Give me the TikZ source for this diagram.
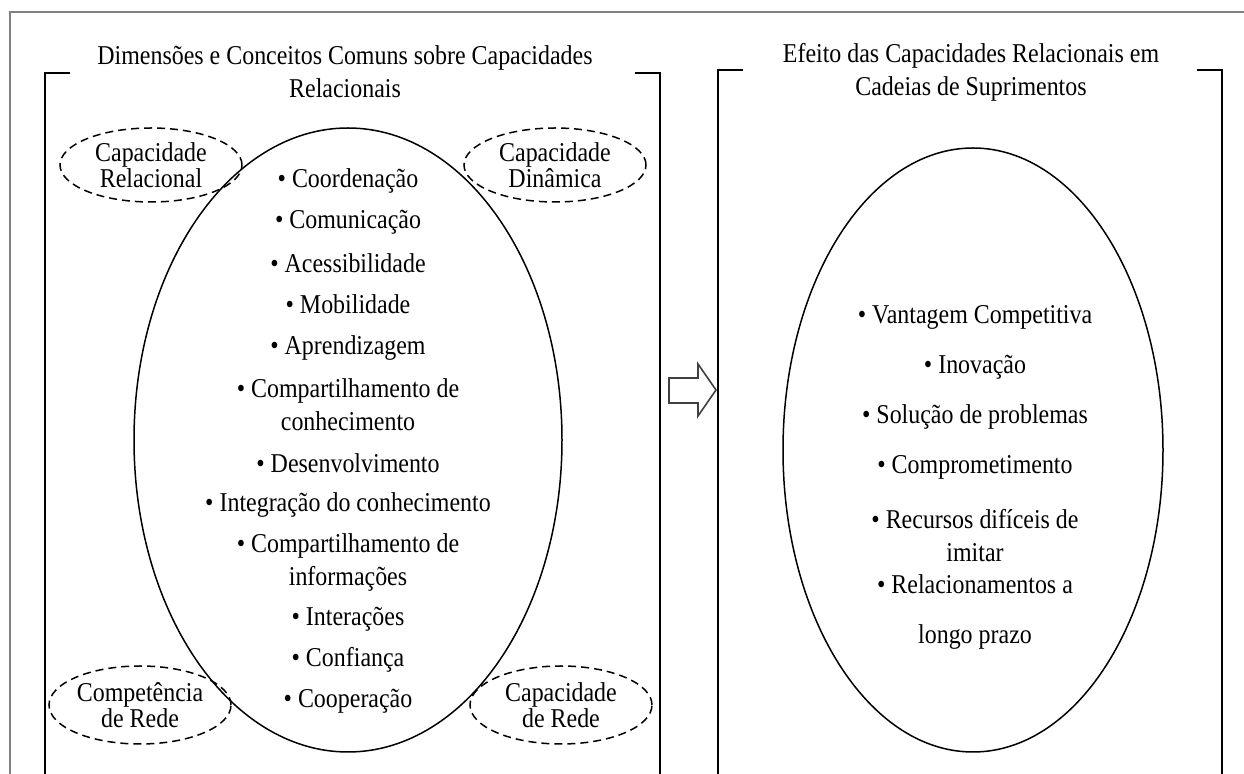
\documentclass[tikz,border=0pt]{standalone}
\usepackage{fontspec}
\setmainfont{Liberation Serif}[FakeStretch=0.88]
\usetikzlibrary{positioning,shapes.geometric}
\newcommand{\bracketbox}[4]{
  % #1 left x, #2 right x, #3 top y, #4 arm length
  \draw[boxline] (#1+#4,#3) -- (#1,#3) -- (#1,774);
  \draw[boxline] (#2-#4,#3) -- (#2,#3) -- (#2,774);
}
\tikzset{
frameline/.style={draw=black!50, line width=0.7pt},
boxline/.style={draw=black, line width=1pt},
bigoval/.style={draw, ellipse, line width=0.75pt, inner sep=0pt},
dashoval/.style={draw, ellipse, dashed, dash pattern=on 4pt off 2.5pt, line width=0.75pt, inner sep=0pt, align=center, font=\fontsize{13.6}{13}\selectfont},
item/.style={align=center, inner sep=0pt, font=\fontsize{13.6}{16.5}\selectfont},
heading/.style={align=center, inner sep=0pt, font=\fontsize{13.6}{16.5}\selectfont}
}

\begin{document}
\begin{tikzpicture}[x=0.5pt, y=-0.5pt]
\useasboundingbox (0,0) rectangle (1244,774);
% outer frame
\draw[frameline] (10,774) -- (10,12) -- (1244,12);
% the two bracket boxes
\bracketbox{45}{660}{73}{25}
\bracketbox{718}{1222}{70}{25}
\node[heading] (dimtitle) at (345,72) {Dimensões e Conceitos Comuns sobre Capacidades\\Relacionais};
\node[heading] (efftitle) at (971,72) {Efeito das Capacidades Relacionais em\\Cadeias de Suprimentos};
% big ovals
\node[bigoval, minimum width=214pt, minimum height=312pt] (dims) at (348,440) {};
\node[bigoval, minimum width=190pt, minimum height=302pt] (effs) at (973,450) {};
% dashed ovals round the corners
\node[dashoval, minimum width=91pt, minimum height=37pt] (relcap) at (151,165) {Capacidade\\Relacional};
\node[dashoval, minimum width=91pt, minimum height=37pt] (dyncap) at (555,165) {Capacidade\\Dinâmica};
\node[dashoval, minimum width=91pt, minimum height=39pt] (netcomp) at (140,705) {Competência\\de Rede};
\node[dashoval, minimum width=91pt, minimum height=39pt] (netcap) at (561,705) {Capacidade\\de Rede};
% items of the left oval
\foreach \txt/\y [count=\i] in {Coordenação/181, Comunicação/222, Acessibilidade/263, Mobilidade/304, Aprendizagem/348, {Compartilhamento de\\conhecimento}/405, Desenvolvimento/463, Integração do conhecimento/505, {Compartilhamento de\\informações}/562, Interações/619, Confiança/660, Cooperação/701}
  \node[item] (dim\i) at (348,\y) {• \txt};
% items of the right oval
\foreach \txt/\y [count=\i] in {Vantagem Competitiva/317, Inovação/367, Solução de problemas/417, Comprometimento/467, {Recursos difíceis de\\imitar}/536}
  \node[item] (eff\i) at (975,\y) {• \txt};
\node[item, font=\fontsize{13.6}{25}\selectfont] (eff6) at (975,612) {• Relacionamentos a\\longo prazo};
% block arrow between the boxes
\draw[line width=0.8pt, draw=black!75, fill=white] (669,378) -- (698,378) -- (698,364) -- (716,390) -- (698,416) -- (698,403) -- (669,403) -- cycle;
\end{tikzpicture}
\end{document}
